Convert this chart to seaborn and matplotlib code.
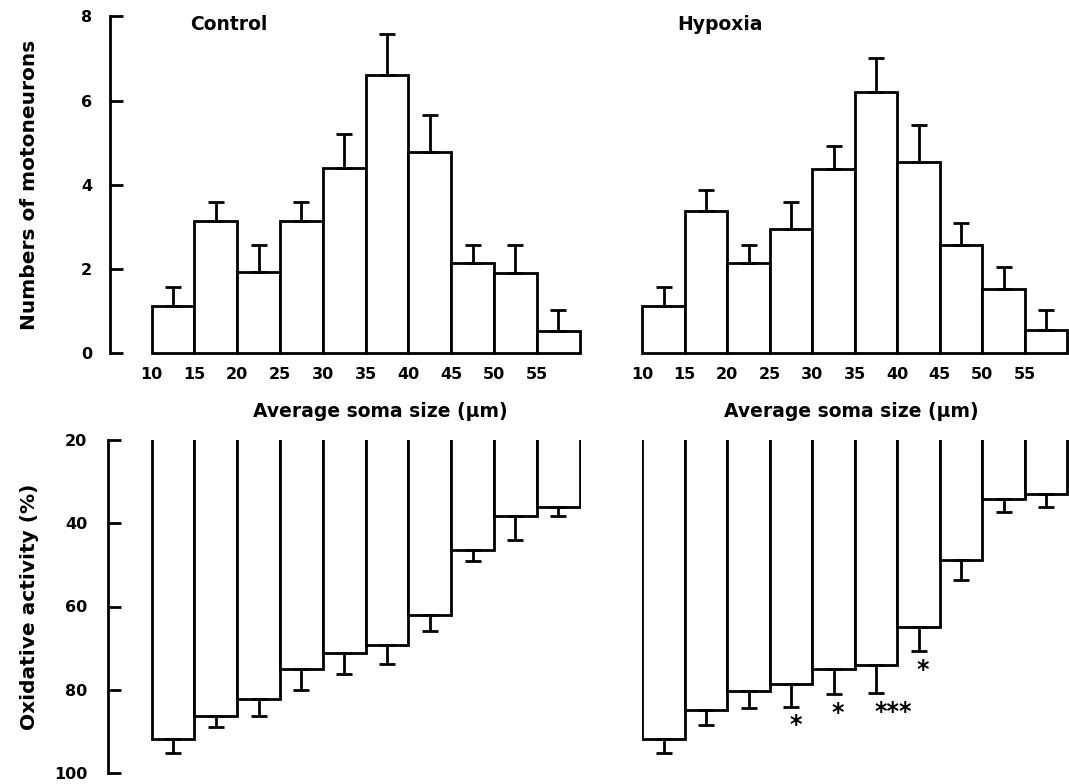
import numpy as np
import pandas as pd
import matplotlib
matplotlib.use("Agg")
import matplotlib.pyplot as plt
import seaborn as sns

# soma size bins (left edges, µm)
bin_edges = [10, 15, 20, 25, 30, 35, 40, 45, 50, 55]
bin_labels = ["10", "15", "20", "25", "30", "35", "40", "45", "50", "55"]

# numbers of motoneurons per bin (mean, SE)
ctrl_counts = [1.13, 3.14, 1.94, 3.14, 4.39, 6.60, 4.77, 2.14, 1.90, 0.52]
ctrl_count_err = [0.44, 0.45, 0.62, 0.45, 0.81, 0.98, 0.89, 0.42, 0.66, 0.51]
hyp_counts = [1.13, 3.38, 2.14, 2.95, 4.38, 6.20, 4.55, 2.56, 1.53, 0.56]
hyp_count_err = [0.44, 0.49, 0.43, 0.63, 0.53, 0.82, 0.87, 0.53, 0.53, 0.47]

# oxidative activity (%) per bin (mean, SE)
ctrl_ox = [91.9, 86.3, 82.3, 75.0, 71.1, 69.3, 62.1, 46.4, 38.2, 36.0]
ctrl_ox_err = [3.2, 2.7, 4.0, 5.0, 5.1, 4.5, 3.9, 2.7, 5.9, 2.2]
hyp_ox = [91.9, 84.9, 80.4, 78.6, 75.0, 74.0, 64.9, 48.9, 34.2, 33.0]
hyp_ox_err = [3.3, 3.5, 3.9, 5.5, 6.0, 6.9, 5.9, 4.8, 3.0, 3.2]
hyp_stars = ["", "", "", "*", "*", "***", "*", "", "", ""]

centers = [e + 2.5 for e in bin_edges]

sns.set_theme(style="white")
plt.rcParams["font.family"] = ["DejaVu Sans"]
plt.rcParams["font.weight"] = "bold"
for k in ["text.color", "axes.labelcolor", "xtick.color", "ytick.color"]:
    plt.rcParams[k] = "black"

LW = 2.0
fig = plt.figure(figsize=(10.69, 7.84), dpi=100)

W, H = 1069, 784
def pos(x0, x1, y0, y1):
    # pixel box -> figure fraction
    return [x0 / W, 1 - y1 / H, (x1 - x0) / W, (y1 - y0) / H]

ax_tl = fig.add_axes(pos(110, 580.8, 16.3, 353.3))
ax_tr = fig.add_axes(pos(642.3, 1068.6, 16.3, 353.3))
ax_bl = fig.add_axes(pos(108, 580.8, 440, 773))
ax_br = fig.add_axes(pos(642.3, 1068.6, 440, 773))


def draw_bars(ax, vals, errs, clip=True):
    df = pd.DataFrame({"size": centers, "value": vals})
    sns.barplot(data=df, x="size", y="value", native_scale=True, width=1,
                color="white", saturation=1, edgecolor="black", linewidth=LW,
                errorbar=None, ax=ax)
    for p in ax.patches:
        p.set_clip_on(clip)
    ax.errorbar(centers, vals, yerr=[np.zeros(len(errs)), errs], fmt="none",
                ecolor="black", elinewidth=LW, capsize=6, capthick=LW,
                clip_on=False)
    ax.set_xlabel("")
    ax.set_ylabel("")
    for s in ["top", "right", "bottom", "left"]:
        ax.spines[s].set_visible(False)


# top: counts
for ax, vals, errs in [(ax_tl, ctrl_counts, ctrl_count_err),
                       (ax_tr, hyp_counts, hyp_count_err)]:
    draw_bars(ax, vals, errs, clip=False)
    ax.set_ylim(0, 8)
    ax.set_xticks(bin_edges)
    ax.set_xticklabels(bin_labels, fontsize=11.5, fontweight="bold")
    ax.tick_params(axis="x", length=0, pad=10)

ax_tl.set_xlim(5.13, 60.15)
ax_tr.set_xlim(10, 60.15)

ax_tl.spines["left"].set_visible(True)
ax_tl.spines["left"].set_linewidth(LW)
ax_tl.spines["left"].set_color("black")
ax_tl.set_yticks([0, 2, 4, 6, 8])
ax_tl.set_yticklabels(["0", "2", "4", "6", "8"], fontsize=11.5, fontweight="bold")
ax_tl.tick_params(axis="y", direction="in", length=9, width=LW, pad=13, left=True)
ax_tr.set_yticks([])

ax_tl.text(0.17, 0.975, "Control", transform=ax_tl.transAxes, fontsize=13.5,
           fontweight="bold", va="center", ha="left")
ax_tr.text(0.082, 0.975, "Hypoxia", transform=ax_tr.transAxes, fontsize=13.5,
           fontweight="bold", va="center", ha="left")

for ax in (ax_tl, ax_tr):
    ax.set_xlabel("Average soma size (µm)", fontsize=13.5, fontweight="bold")
ax_tl.xaxis.set_label_coords(0.575, -0.145)
ax_tr.xaxis.set_label_coords(0.49, -0.145)

ax_tl.set_ylabel("Numbers of motoneurons", fontsize=14.5, fontweight="bold")
ax_tl.yaxis.set_label_coords(-0.15, 0.5)

# bottom: oxidative activity (inverted axis, bars hang from 20 %)
for ax, vals, errs in [(ax_bl, ctrl_ox, ctrl_ox_err),
                       (ax_br, hyp_ox, hyp_ox_err)]:
    draw_bars(ax, vals, errs, clip=True)
    ax.set_ylim(100, 20)
    ax.set_xticks([])

ax_bl.set_xlim(4.9, 60.15)
ax_br.set_xlim(10, 60.15)

ax_bl.spines["left"].set_visible(True)
ax_bl.spines["left"].set_linewidth(LW)
ax_bl.spines["left"].set_color("black")
ax_bl.set_yticks([20, 40, 60, 80, 100])
ax_bl.set_yticklabels(["20", "40", "60", "80", "100"], fontsize=11.5, fontweight="bold")
ax_bl.tick_params(axis="y", direction="in", length=9, width=LW, pad=15, left=True)
ax_br.set_yticks([])

ax_bl.set_ylabel("Oxidative activity (%)", fontsize=14.5, fontweight="bold")
ax_bl.yaxis.set_label_coords(-0.146, 0.5)

for c, v, e, s in zip(centers, hyp_ox, hyp_ox_err, hyp_stars):
    if s:
        ax_br.text(c - 0.2, v + e + 1.6, s, fontsize=17, fontweight="bold",
                   ha="left", va="top")

fig.savefig("out.png", dpi=100)
